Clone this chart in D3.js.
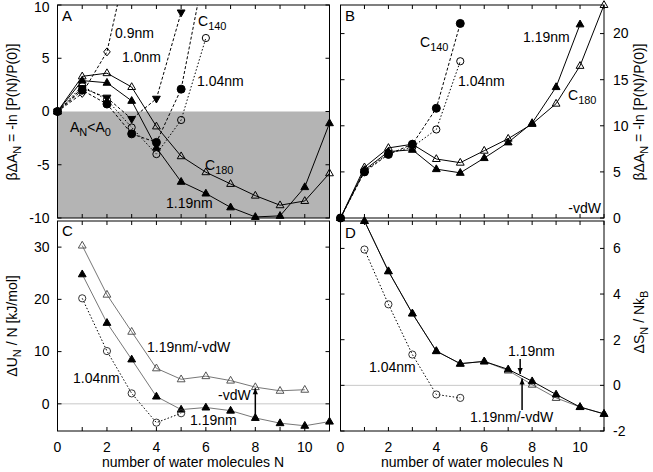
<!DOCTYPE html>
<html><head><meta charset="utf-8">
<script src="https://cdn.jsdelivr.net/npm/d3@7"></script>
<style>
body{margin:0;background:#fff}
svg{display:block}
text{font-family:"Liberation Sans",Arial,Helvetica,sans-serif;font-size:14px;fill:#000}
</style>
</head><body>
<svg id="chart" width="653" height="472"></svg>
<script>
// ---------- DATA ----------
// Panel A: beta dA_N
const a09N = [0,1,2,3];
const a09 = [0,1.7,5.6,16];
const a10N = [0,1,2,3,4,5];
const a10 = [0,2.2,1.3,-0.7,1.2,9.3];
const aC140N = [0,1,2,3,4,5,6];
const aC140 = [0,2.0,0.7,-2.1,-2.9,2.1,14];
const a104N = [0,1,2,3,4,5,6];
const a104 = [0,2.4,1.1,-1.5,-4.0,-0.8,6.9];
const aC180N = [0,1,2,3,4,5,6,7,8,9,10,11];
const aC180 = [0,3.3,3.6,2.3,-1.4,-4.2,-5.7,-6.8,-7.9,-8.8,-8.4,-5.8];
const a119N = [0,1,2,3,4,5,6,7,8,9,10,11];
const a119 = [0,2.9,2.7,1.0,-3.4,-6.6,-7.7,-9.0,-9.9,-9.8,-7.1,-1.1];
// Panel B: -vdW
const bC140N = [0,1,2,3,4,5];
const bC140 = [0,5.0,6.9,8.0,11.9,21.1];
const b104N = [0,1,2,3,4,5];
const b104 = [0,5.1,7.0,7.7,9.6,17.0];
const bC180N = [0,1,2,3,4,5,6,7,8,9,10,11];
const bC180 = [0,5.5,7.6,8.0,6.4,6.0,7.3,8.6,10.2,12.4,16.5,23.1];
const b119N = [0,1,2,3,4,5,6,7,8,9,10];
const b119 = [0,5.2,7.2,7.4,5.3,4.9,6.5,8.2,10.3,14.2,21.0];
// Panel C: dU_N / N
const c119vN = [1,2,3,4,5,6,7,8,9,10];
const c119v = [30.3,20.9,13.8,6.8,4.7,5.3,4.45,3.2,2.5,2.7];
const c119N = [1,2,3,4,5,6,7,8,9,10,11];
const c119 = [24.8,15.5,8.5,1.4,-1.1,-0.7,-1.3,-2.7,-3.7,-4.2,-3.4];
const c104N = [1,2,3,4,5];
const c104 = [20.2,10.1,2.0,-3.6,-1.8];
// Panel D: dS_N / N kB
const d119N = [1,2,3,4,5,6,7,8,9,10,11];
const d119 = [7.2,5.0,3.15,1.5,0.95,1.05,0.7,0.18,-0.4,-0.95,-1.25];
const d119vN = [1,2,3,4,5,6,7,8,9,10,11];
const d119v = [7.2,5.0,3.15,1.5,0.95,1.05,0.65,0.03,-0.55,-0.95,-1.25];
const d104N = [1,2,3,4,5];
const d104 = [5.95,3.55,1.35,-0.4,-0.55];
// ticks
const xTickLabels = [0,2,4,6,8,10];
const aTicks = [-10,-5,0,5,10];
const bTicks = [0,5,10,15,20];
const cTicks = [0,10,20,30];
const dTicks = [-2,0,2,4,6];

// ---------- DRAW ----------
const svg = d3.select("#chart");
const L = {x0:57.5, x1:329.5}, R = {x0:340.5, x1:604};
const TOP = {y0:5, y1:218}, BOT = {y0:221, y1:431};

function panel(id, xr, yr, ydom, yticks, side, showX){
  const x = d3.scaleLinear().domain([0,11]).range([xr.x0, xr.x1]);
  const y = d3.scaleLinear().domain(ydom).range([yr.y1, yr.y0]);
  const g = svg.append("g");
  svg.append("clipPath").attr("id","clip"+id).append("rect")
    .attr("x",xr.x0).attr("y",yr.y0).attr("width",xr.x1-xr.x0).attr("height",yr.y1-yr.y0);
  return {x,y,g,xr,yr,id,yticks,side,showX};
}
function frame(p){
  const {x,y,g,xr,yr,yticks,side,showX} = p;
  const t = 4;
  const fg = g.append("g");
  d3.range(0,12).forEach(v=>{
    fg.append("line").attr("x1",x(v)).attr("x2",x(v)).attr("y1",yr.y1).attr("y2",yr.y1-t).attr("stroke","#000");
    fg.append("line").attr("x1",x(v)).attr("x2",x(v)).attr("y1",yr.y0).attr("y2",yr.y0+t).attr("stroke","#000");
  });
  yticks.forEach(v=>{
    fg.append("line").attr("x1",xr.x0).attr("x2",xr.x0+t).attr("y1",y(v)).attr("y2",y(v)).attr("stroke","#000");
    fg.append("line").attr("x1",xr.x1).attr("x2",xr.x1-t).attr("y1",y(v)).attr("y2",y(v)).attr("stroke","#000");
    let yy = y(v);
    if(yy<7) yy = 7.5;
    const lab = fg.append("text").attr("y",yy).attr("dy","0.35em").text(v);
    if(side==="left") lab.attr("x",xr.x0-8).attr("text-anchor","end");
    else lab.attr("x",xr.x1+9).attr("text-anchor","start");
  });
  if(showX){
    xTickLabels.forEach(v=>{
      fg.append("text").attr("x",x(v)).attr("y",yr.y1+21).attr("text-anchor","middle").text(v);
    });
  }
  fg.append("rect").attr("x",xr.x0).attr("y",yr.y0).attr("width",xr.x1-xr.x0).attr("height",yr.y1-yr.y0)
    .attr("fill","none").attr("stroke","#000").attr("stroke-width",1);
}
const markers = {
  triUp: "M0,-4.3L3.9,2.5L-3.9,2.5Z",
  triDown: "M0,4.3L3.9,-2.5L-3.9,-2.5Z",
  diamond: "M0,-4L3.3,0L0,4L-3.3,0Z"
};
function series(p, xs, ys, o){
  const {x,y,g,id} = p;
  const pts = xs.map((v,i)=>[v,ys[i]]);
  g.append("path").datum(pts)
    .attr("clip-path",`url(#clip${id})`)
    .attr("d", d3.line().x(d=>x(d[0])).y(d=>y(d[1])))
    .attr("fill","none").attr("stroke",o.line||"#000").attr("stroke-width",o.lw||1)
    .attr("stroke-dasharray",o.dash||null);
  const [lo,hi] = y.domain();
  const vis = pts.filter(d=>d[1]>=lo-0.01 && d[1]<=hi+0.3);
  const mk = g.append("g");
  vis.forEach(d=>{
    if(o.marker==="circle"){
      mk.append("circle").attr("cx",x(d[0])).attr("cy",y(d[1])).attr("r",o.r||3.6)
        .attr("fill",o.fill?(o.mcol||"#000"):"none").attr("stroke",o.mcol||"#000").attr("stroke-width",1);
    } else {
      mk.append("path").attr("d",markers[o.marker]).attr("transform",`translate(${x(d[0])},${y(d[1])})`)
        .attr("fill",o.fill?(o.mcol||"#000"):"none").attr("stroke",o.mcol||"#000").attr("stroke-width",1);
    }
  });
}
function label(x0,y0,parts,opts={}){
  const t = svg.append("text").attr("x",x0).attr("y",y0);
  if(opts.anchor) t.attr("text-anchor",opts.anchor);
  if(opts.size) t.style("font-size",opts.size+"px");
  if(opts.rotate!==undefined) t.attr("transform",`rotate(${opts.rotate},${x0},${y0})`);
  let shifted = false;
  parts.forEach(pt=>{
    if(typeof pt==="string"){
      const s = t.append("tspan").text(pt);
      if(shifted){ s.attr("dy",-4); shifted=false; }
    } else {
      t.append("tspan").attr("dy",shifted?0:4).style("font-size","11px").text(pt.sub);
      shifted = true;
    }
  });
  return t;
}
function arrow(x1,y1,x2,y2){
  svg.append("line").attr("x1",x1).attr("y1",y1).attr("x2",x2).attr("y2",y2).attr("stroke","#000").attr("stroke-width",1.5);
  const ang = Math.atan2(y2-y1,x2-x1);
  const len=6, w=2.6;
  const bx = x2-len*Math.cos(ang), by = y2-len*Math.sin(ang);
  const px = -Math.sin(ang)*w, py = Math.cos(ang)*w;
  svg.append("path").attr("d",`M${x2},${y2}L${bx+px},${by+py}L${bx-px},${by-py}Z`).attr("fill","#000");
}

// Panel A
const pA = panel("A", L, TOP, [-10,10], aTicks, "left", false);
pA.g.append("rect").attr("x",L.x0).attr("y",pA.y(0)).attr("width",L.x1-L.x0).attr("height",pA.y(-10)-pA.y(0)).attr("fill","#b4b4b4");
series(pA, aC180N, aC180, {marker:"triUp", fill:false});
series(pA, a119N, a119, {marker:"triUp", fill:true});
series(pA, a09N, a09, {marker:"diamond", fill:false, dash:"3,2"});
series(pA, a10N, a10, {marker:"triDown", fill:true, dash:"3,2"});
series(pA, aC140N, aC140, {marker:"circle", fill:true, dash:"3,2", r:4});
series(pA, a104N, a104, {marker:"circle", fill:false, dash:"1.5,2"});
frame(pA);

// Panel B
const pB = panel("B", R, TOP, [0,23.1], bTicks, "right", false);
series(pB, bC180N, bC180, {marker:"triUp", fill:false});
series(pB, b119N, b119, {marker:"triUp", fill:true});
series(pB, bC140N, bC140, {marker:"circle", fill:true, dash:"3,2", r:4});
series(pB, b104N, b104, {marker:"circle", fill:false, dash:"1.5,2"});
frame(pB);

// Panel C
const pC = panel("C", L, BOT, [-5.2,35], cTicks, "left", true);
pC.g.append("line").attr("x1",L.x0).attr("x2",L.x1).attr("y1",pC.y(0)).attr("y2",pC.y(0)).attr("stroke","#c8c8c8");
series(pC, c119vN, c119v, {marker:"triUp", fill:false, line:"#777", mcol:"#555"});
series(pC, c119N, c119, {marker:"triUp", fill:true, line:"#777"});
series(pC, c104N, c104, {marker:"circle", fill:false, dash:"1.5,2", mcol:"#333"});
frame(pC);

// Panel D
const pD = panel("D", R, BOT, [-2,7.2], dTicks, "right", true);
pD.g.append("line").attr("x1",R.x0).attr("x2",R.x1).attr("y1",pD.y(0)).attr("y2",pD.y(0)).attr("stroke","#c8c8c8");
series(pD, d119vN, d119v, {marker:"triUp", fill:false, line:"#777", mcol:"#444"});
series(pD, d119N, d119, {marker:"triUp", fill:true});
series(pD, d104N, d104, {marker:"circle", fill:false, dash:"1.5,2", mcol:"#333"});
frame(pD);

// Panel letters
label(62,21,["A"],{size:15});
label(345,21,["B"],{size:15});
label(62,236,["C"],{size:15});
label(345,238,["D"],{size:15});

// Annotations A
label(115,38,["0.9nm"]);
label(122,62,["1.0nm"]);
label(198,26,["C",{sub:"140"}]);
label(197,86,["1.04nm"]);
label(70,132,["A",{sub:"N"},"<A",{sub:"0"}]);
label(205,170,["C",{sub:"180"}]);
label(166,208,["1.19nm"]);
// Annotations B
label(420,47,["C",{sub:"140"}]);
label(458,86,["1.04nm"]);
label(523,42,["1.19nm"]);
label(568,100,["C",{sub:"180"}]);
label(601,213,["-vdW"],{anchor:"end"});
// Annotations C
label(147,352,["1.19nm/-vdW"]);
label(73,383,["1.04nm"]);
label(218,400,["-vdW"]);
label(190,425,["1.19nm"]);
arrow(pC.x(8), pC.y(-2.7), pC.x(8), pC.y(3.0));
// Annotations D
label(508,356,["1.19nm"]);
label(369,372,["1.04nm"]);
label(470,422,["1.19nm/-vdW"]);
arrow(pD.x(7.5), 359, pD.x(7.5), pD.y(0.5));
arrow(pD.x(7.58), 410, pD.x(7.58), pD.y(0.3));

// Axis titles
label(17,112,["\u03B2\u0394A",{sub:"N"}," = -ln [P(N)/P(0)]"],{anchor:"middle",rotate:-90});
label(644,112,["\u03B2\u0394A",{sub:"N"}," = -ln [P(N)/P(0)]"],{anchor:"middle",rotate:-90});
label(17,326,["\u0394U",{sub:"N"}," / N [kJ/mol]"],{anchor:"middle",rotate:-90});
label(644,322,["\u0394S",{sub:"N"}," / Nk",{sub:"B"}],{anchor:"middle",rotate:-90});
label(193,467,["number of water molecules N"],{anchor:"middle"});
label(472,467,["number of water molecules N"],{anchor:"middle"});
</script>
</body></html>
